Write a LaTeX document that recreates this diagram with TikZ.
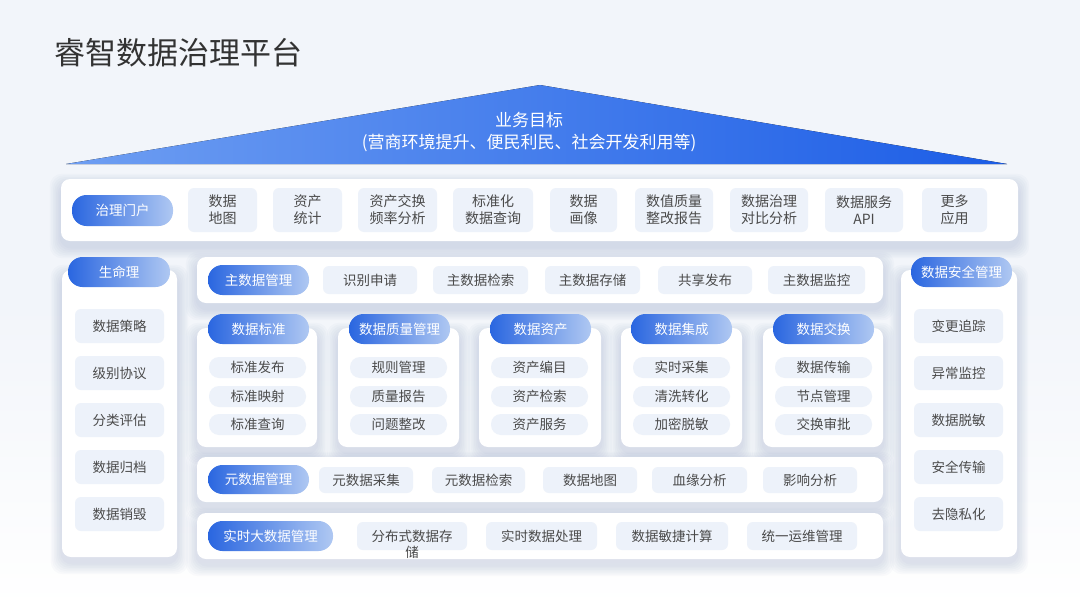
\documentclass[tikz,border=0pt]{standalone}
\usepackage{fontspec}
\setmainfont{Noto Sans CJK SC}
\definecolor{bgc}{HTML}{F2F5FA}
\definecolor{itembg}{HTML}{EDF2FA}
\definecolor{txt}{HTML}{4A4A4A}
\definecolor{titlec}{HTML}{333333}
\definecolor{pillL}{HTML}{2A66E0}
\definecolor{pillR}{HTML}{AFC8F2}
\definecolor{roofL}{HTML}{6E9EF2}
\definecolor{roofR}{HTML}{1C5DE6}
\definecolor{shadowc}{HTML}{7F93BC}
\newcommand{\softshadow}[4]{%
  \foreach \k in {1,...,7}{%
    \fill[shadowc, opacity=0.04, rounded corners=12pt] ({#1-\k*1.6},{#2-\k*1.6+6}) rectangle ({#3+\k*1.6},{#4+\k*1.6+6});
  }}
\newcommand{\panelbox}[4]{\softshadow{#1}{#2}{#3}{#4}\fill[panel] (#1,#2) rectangle (#3,#4);}
\newcommand{\bx}[7]{\node[#1, minimum width={#5-#3}, minimum height={#6-#4}] (#2) at ({(#3+#5)/2},{(#4+#6)/2}) {#7};}
\begin{document}
\begin{tikzpicture}[x=1pt,y=-1pt,
  panel/.style={fill=white, rounded corners=9pt},
  pill/.style={rounded corners=14.5pt, left color=pillL, right color=pillR, text=white, font=\fontsize{13.5}{15}\selectfont, inner sep=0pt},
  item/.style={fill=itembg, rounded corners=6pt, text=txt, font=\fontsize{13.5}{17}\selectfont, align=center, inner sep=0pt},
  topitem/.style={item, font=\fontsize{14}{17}\selectfont},
  sub/.style={fill=itembg, rounded corners=10pt, text=txt, font=\fontsize{13.5}{15}\selectfont, inner sep=0pt}]
\useasboundingbox (0,0) rectangle (1080,608);
\shade[top color=bgc, bottom color=white, middle color=bgc] (0,0) rectangle (1080,608);
% title
\node[anchor=west, inner sep=0pt, font=\fontsize{31}{36}\selectfont, text=titlec] (title) at (54,53) {睿智数据治理平台};
% roof
\fill[left color=roofL, right color=roofR] (66,164) -- (540,85) -- (1007,164) -- cycle;
\node[text=white, align=center, font=\fontsize{17}{21.5}\selectfont] (goal) at (529,132) {业务目标\\(营商环境提升、便民利民、社会开发利用等)};
% top portal panel
\panelbox{61}{179}{1018}{241}
\bx{pill}{portal}{72}{195}{173}{226}{治理门户}
\bx{topitem}{t1}{188}{188}{257}{232}{数据\\地图}
\bx{topitem}{t2}{273}{188}{342}{232}{资产\\统计}
\bx{topitem}{t3}{358}{188}{437}{232}{资产交换\\频率分析}
\bx{topitem}{t4}{453}{188}{533}{232}{标准化\\数据查询}
\bx{topitem}{t5}{550}{188}{617}{232}{数据\\画像}
\bx{topitem}{t6}{635}{188}{713}{232}{数值质量\\整改报告}
\bx{topitem}{t7}{730}{188}{808}{232}{数据治理\\对比分析}
\bx{topitem}{t8}{825}{188}{903}{232}{数据服务\\API}
\bx{topitem}{t9}{922}{188}{987}{232}{更多\\应用}
% left column
\panelbox{62}{270}{177}{557}
\bx{pill}{life}{68}{257}{170}{287}{生命理}
\bx{item}{l1}{75}{309}{164}{343}{数据策略}
\bx{item}{l2}{75}{356}{164}{390}{级别协议}
\bx{item}{l3}{75}{403}{164}{437}{分类评估}
\bx{item}{l4}{75}{450}{164}{484}{数据归档}
\bx{item}{l5}{75}{497}{164}{531}{数据销毁}
% right column
\panelbox{901}{270}{1017}{557}
\bx{pill}{sec}{911}{257}{1012}{287}{数据安全管理}
\bx{item}{r1}{914}{309}{1003}{343}{变更追踪}
\bx{item}{r2}{914}{356}{1003}{390}{异常监控}
\bx{item}{r3}{914}{403}{1003}{437}{数据脱敏}
\bx{item}{r4}{914}{450}{1003}{484}{安全传输}
\bx{item}{r5}{914}{497}{1003}{531}{去隐私化}
% master data row
\panelbox{197}{257}{883}{303}
\bx{pill}{mdm}{208}{265}{309}{295}{主数据管理}
\bx{item}{m1}{323}{266}{417}{294}{识别申请}
\bx{item}{m2}{433}{266}{528}{294}{主数据检索}
\bx{item}{m3}{545}{266}{640}{294}{主数据存储}
\bx{item}{m4}{658}{266}{752}{294}{共享发布}
\bx{item}{m5}{768}{266}{865}{294}{主数据监控}
% cards
\panelbox{197}{328}{317}{447}
\panelbox{338}{328}{459}{447}
\panelbox{479}{328}{601}{447}
\panelbox{621}{328}{742}{447}
\panelbox{763}{328}{883}{447}
\bx{pill}{c1}{208}{314}{309}{344}{数据标准}
\bx{pill}{c2}{349}{314}{450}{344}{数据质量管理}
\bx{pill}{c3}{490}{314}{591}{344}{数据资产}
\bx{pill}{c4}{631}{314}{732}{344}{数据集成}
\bx{pill}{c5}{773}{314}{874}{344}{数据交换}
\bx{sub}{c1a}{209}{357}{306}{378}{标准发布}
\bx{sub}{c1b}{209}{386}{306}{407}{标准映射}
\bx{sub}{c1c}{209}{414}{306}{435}{标准查询}
\bx{sub}{c2a}{350}{357}{447}{378}{规则管理}
\bx{sub}{c2b}{350}{386}{447}{407}{质量报告}
\bx{sub}{c2c}{350}{414}{447}{435}{问题整改}
\bx{sub}{c3a}{491}{357}{588}{378}{资产编目}
\bx{sub}{c3b}{491}{386}{588}{407}{资产检索}
\bx{sub}{c3c}{491}{414}{588}{435}{资产服务}
\bx{sub}{c4a}{633}{357}{730}{378}{实时采集}
\bx{sub}{c4b}{633}{386}{730}{407}{清洗转化}
\bx{sub}{c4c}{633}{414}{730}{435}{加密脱敏}
\bx{sub}{c5a}{775}{357}{872}{378}{数据传输}
\bx{sub}{c5b}{775}{386}{872}{407}{节点管理}
\bx{sub}{c5c}{775}{414}{872}{435}{交换审批}
% metadata row
\panelbox{197}{457}{883}{502}
\bx{pill}{meta}{208}{465}{309}{494}{元数据管理}
\bx{item}{e1}{319}{467}{413}{493}{元数据采集}
\bx{item}{e2}{432}{467}{525}{493}{元数据检索}
\bx{item}{e3}{543}{467}{637}{493}{数据地图}
\bx{item}{e4}{652}{467}{747}{493}{血缘分析}
\bx{item}{e5}{763}{467}{857}{493}{影响分析}
% realtime row
\panelbox{197}{513}{883}{559}
\bx{pill}{rt}{208}{521}{333}{551}{实时大数据管理}
\bx{item}{rt1}{357}{522}{467}{550}{\raisebox{0pt}[\height][0pt]{\begin{tabular}[t]{@{}c@{}}分布式数据存\\[-1pt]储\end{tabular}}}
\bx{item}{rt2}{486}{522}{597}{550}{实时数据处理}
\bx{item}{rt3}{616}{522}{728}{550}{数据敏捷计算}
\bx{item}{rt4}{747}{522}{857}{550}{统一运维管理}
\end{tikzpicture}
\end{document}
